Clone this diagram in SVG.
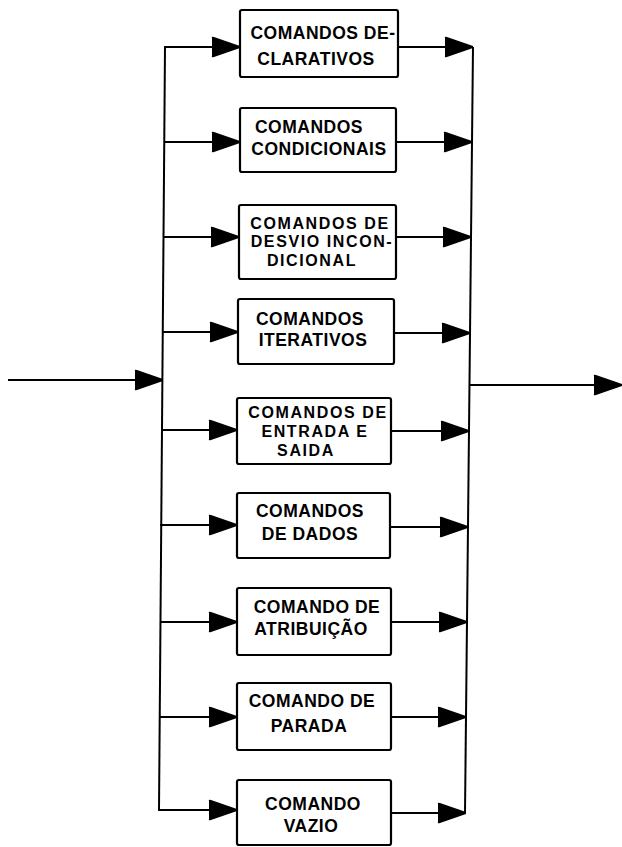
<svg xmlns="http://www.w3.org/2000/svg" width="622" height="847" viewBox="0 0 622 847">
<style>
.box{fill:#fff;stroke:#000;stroke-width:2.2}
.t{font-family:"Liberation Sans",Arial,sans-serif;font-weight:bold;font-size:17.5px;letter-spacing:0.5px;fill:#000;text-anchor:middle}
.t3{font-size:16px;letter-spacing:1.6px}
.w{fill:none;stroke:#000;stroke-width:2}
.a{fill:none;stroke:#000;stroke-width:2;marker-end:url(#ah)}
</style>
<defs>
<marker id="ah" markerUnits="userSpaceOnUse" markerWidth="30" markerHeight="22" refX="29" refY="11" orient="auto">
<path d="M1,2 Q0,0 3,1 L29,10 L29,12 L3,21 Q0,22 1,20 Z" fill="#000"/>
</marker>
</defs>
<g id="connectors">
<line class="w" x1="165" y1="47" x2="159" y2="810"/>
<line class="w" x1="473" y1="47" x2="465" y2="813"/>
<line class="a" x1="8" y1="380" x2="163" y2="380"/>
<line class="a" x1="469" y1="385" x2="622" y2="385"/>
<line class="a" x1="164" y1="47" x2="240" y2="47"/>
<line class="a" x1="398" y1="47" x2="473" y2="47"/>
<line class="a" x1="164" y1="142" x2="240" y2="142"/>
<line class="a" x1="396" y1="142" x2="472" y2="142"/>
<line class="a" x1="163" y1="237" x2="239" y2="237"/>
<line class="a" x1="396" y1="237" x2="471" y2="237"/>
<line class="a" x1="162" y1="332" x2="238" y2="332"/>
<line class="a" x1="394" y1="333" x2="470" y2="333"/>
<line class="a" x1="161" y1="430" x2="237" y2="430"/>
<line class="a" x1="391" y1="431" x2="469" y2="431"/>
<line class="a" x1="160" y1="525" x2="237" y2="525"/>
<line class="a" x1="390" y1="527" x2="468" y2="527"/>
<line class="a" x1="160" y1="622" x2="237" y2="622"/>
<line class="a" x1="391" y1="622" x2="467" y2="622"/>
<line class="a" x1="159" y1="717" x2="237" y2="717"/>
<line class="a" x1="391" y1="717" x2="466" y2="717"/>
<line class="a" x1="158" y1="810" x2="237" y2="810"/>
<line class="a" x1="391" y1="813" x2="466" y2="813"/>
</g>
<g id="n1"><rect class="box" x="240" y="10" width="158" height="67" rx="2"/>
<text class="t" x="323" y="39">COMANDOS DE-</text><text class="t" x="316" y="65">CLARATIVOS</text></g>
<g id="n2"><rect class="box" x="240" y="108" width="156" height="64" rx="2"/>
<text class="t" x="309" y="133">COMANDOS</text><text class="t" x="319" y="155">CONDICIONAIS</text></g>
<g id="n3"><rect class="box" x="239" y="205" width="157" height="74" rx="2"/>
<text class="t t3" x="320" y="228.5">COMANDOS DE</text><text class="t t3" x="322" y="247">DESVIO INCON-</text><text class="t t3" x="312" y="265.5">DICIONAL</text></g>
<g id="n4"><rect class="box" x="238" y="299" width="156" height="65" rx="2"/>
<text class="t" x="310" y="325">COMANDOS</text><text class="t" x="313" y="346">ITERATIVOS</text></g>
<g id="n5"><rect class="box" x="237" y="398" width="154" height="66" rx="2"/>
<text class="t t3" x="318" y="417.5">COMANDOS DE</text><text class="t t3" x="315" y="436.5">ENTRADA E</text><text class="t t3" x="306" y="455.5">SAIDA</text></g>
<g id="n6"><rect class="box" x="237" y="493" width="153" height="65" rx="2"/>
<text class="t" x="310" y="517">COMANDOS</text><text class="t" x="310" y="540">DE DADOS</text></g>
<g id="n7"><rect class="box" x="237" y="588" width="154" height="67" rx="2"/>
<text class="t" x="317" y="613">COMANDO DE</text><text class="t" x="311" y="635">ATRIBUIÇÃO</text></g>
<g id="n8"><rect class="box" x="237" y="683" width="154" height="67" rx="2"/>
<text class="t" x="312" y="707">COMANDO DE</text><text class="t" x="309" y="732">PARADA</text></g>
<g id="n9"><rect class="box" x="237" y="780" width="154" height="65" rx="2"/>
<text class="t" x="313" y="810">COMANDO</text><text class="t" x="311" y="832">VAZIO</text></g>
</svg>
